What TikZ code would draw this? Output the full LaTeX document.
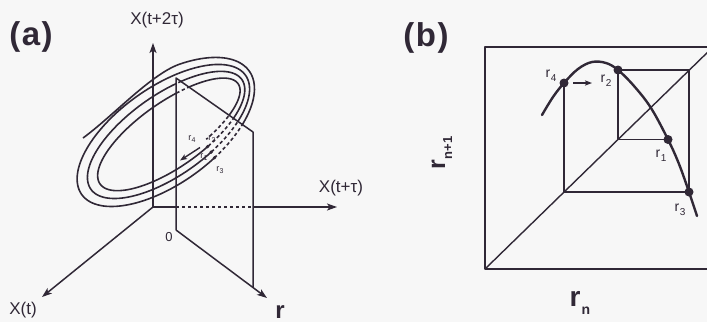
\documentclass[tikz,border=0pt]{standalone}
\usepackage{fontspec}
\setmainfont{Liberation Sans}
\usetikzlibrary{arrows.meta}
\definecolor{ink}{RGB}{48,40,54}
\definecolor{bg}{RGB}{247,247,247}
\newcommand\myspiral{(83,138) .. controls (111.4,117.4) and (150.6,74.7) .. (178.8,64.45) -- plot[domain=0:3.375,samples=440,variable=\s] ({162.6+2.75*\s+0.809*(108-8*\s)*cos(60-360*\s)-0.588*(54-8*\s)*sin(60-360*\s)},{134-0.5*\s-0.588*(108-8*\s)*cos(60-360*\s)-0.809*(54-8*\s)*sin(60-360*\s)})}
\newcommand\spdot[2]{\coordinate (#1) at ({162.6+2.75*#2+0.809*(108-8*#2)*cos(60-360*#2)-0.588*(54-8*#2)*sin(60-360*#2)},{134-0.5*#2-0.588*(108-8*#2)*cos(60-360*#2)-0.809*(54-8*#2)*sin(60-360*#2)});}
\newcommand\rsub[3]{\fontsize{#1}{#1}\selectfont r\kern0.04em\raisebox{-0.28em}{\fontsize{#2}{#2}\selectfont #3}}
\begin{document}
\begin{tikzpicture}[x=1pt,y=-1pt,line join=round,
  ax/.style={draw=ink,line width=1.5pt},
  axtip/.style={-{Stealth[length=10pt,width=7pt,inset=2.5pt]}},
  smalltip/.style={-{Stealth[length=7pt,width=5.2pt,inset=1.5pt]}},
  loopln/.style={draw=ink,line width=1.6pt},
  hid/.style={dash pattern=on 3.4pt off 2.6pt},
  lab/.style={text=ink,inner sep=0pt},
  rdot/.style={fill=ink,draw=none}]
\clip (0,0) rectangle (707,322);
\fill[bg] (0,0) rectangle (707,322);
% ---------- panel (a) ----------
\coordinate (O) at (153,207);
\coordinate (Ztip) at (153,43);
\coordinate (Ytip) at (337,207);
\coordinate (Xtip) at (42,297);
\coordinate (P1) at (176,78);
\coordinate (P2) at (253,132);
\coordinate (P3) at (253,287.5);
\coordinate (P4) at (176,230);
\coordinate (Rtip) at (267,298);
\coordinate (Ha) at (176,207);
\coordinate (Hb) at (253,207);
\coordinate (D1) at (176,96.1);
\coordinate (D2) at (253,219);
\spdot{q0}{0.375}
\spdot{q1}{1.375}
\spdot{q2}{2.375}
\coordinate (AwS) at (200,147.5);
\coordinate (AwE) at (180,160.5);
% loops
\draw[loopln] \myspiral;
\fill[bg] (P1)--(P2)--(P3)--(P4)--cycle;
\begin{scope}
  \clip (D1)--(D2)--(P3)--(P4)--cycle;
  \draw[loopln] \myspiral;
\end{scope}
\begin{scope}
  \clip (P1)--(P2)--(D2)--(D1)--cycle;
  \draw[loopln,hid] \myspiral;
\end{scope}
% axes and plane
\draw[ax,axtip] (O) -- (Ztip);
\draw[ax,axtip] (O) -- (Xtip);
\draw[ax] (O) -- (Ha);
\draw[ax,hid] (Ha) -- (Hb);
\draw[ax,axtip] (Hb) -- (Ytip);
\draw[ax] (P4) -- (P1) -- (P2) -- (P3);
\draw[ax,axtip] (P4) -- (Rtip);
\fill[rdot] (q0) circle (1.8pt) (q1) circle (1.8pt) (q2) circle (1.8pt);
\draw[ink,line width=1.4pt,smalltip] (AwS) -- (AwE);
% labels (a)
\node[lab,font=\bfseries\fontsize{33}{33}\selectfont] (la) at (31,37) {(\kern1.5pt a\kern1.5pt)};
\node[lab,font=\fontsize{17}{17}\selectfont] (lz) at (157,20) {X(t+2τ)};
\node[lab,font=\fontsize{17}{17}\selectfont] (ly) at (341,188) {X(t+τ)};
\node[lab,font=\fontsize{17}{17}\selectfont] (lx) at (23,310) {X(t)};
\node[lab,font=\fontsize{13}{13}\selectfont] (l0) at (169,237) {0};
\node[lab,anchor=base,font=\bfseries\fontsize{24}{24}\selectfont] (lr) at (280,318.5) {r};
\node[lab] (sa4) at (192,139) {\rsub{9}{7}{4}};
\node[lab] (sa2) at (212,139) {\rsub{9}{7}{2}};
\node[lab] (sa1) at (204,157) {\rsub{9}{7}{1}};
\node[lab] (sa3) at (220,170) {\rsub{9}{7}{3}};
% ---------- panel (b) ----------
\coordinate (B0) at (485,269);
\coordinate (B1) at (713,47);
\coordinate (R4) at (564,83);
\coordinate (R2) at (618,70);
\coordinate (R1) at (668,139.5);
\coordinate (R3) at (689,192);
\coordinate (A1) at (564,192);
\coordinate (A2) at (689,70);
\coordinate (A3) at (618,139.5);
\coordinate (AbS) at (573,83);
\coordinate (AbE) at (592,83);
\draw[ink,line width=1.5pt] (B0) rectangle (B1);
\draw[ink,line width=1.4pt] (B0) -- (B1);
\draw[ink,line width=1.4pt] (R4) -- (A1) -- (R3) -- (A2) -- (R2) -- (A3) -- (R1);
\draw[ink,line width=2.4pt,line cap=round] plot[smooth,tension=0.6] coordinates {(542,115) (553,97) (564,83) (578,69) (592,62) (606,63) (618,70) (634,86) (651,108) (668,139.5) (679,164) (689,192) (697,216)};
\fill[rdot] (R4) circle (4.5pt) (R2) circle (4.5pt) (R1) circle (4.5pt) (R3) circle (4.5pt);
\draw[ink,line width=1.4pt,smalltip] (AbS) -- (AbE);
\node[lab,font=\bfseries\fontsize{33}{33}\selectfont] (lb) at (426,38) {(\kern1.5pt b\kern1.5pt)};
\node[lab,rotate=90] (lrn1) at (442,153) {\bfseries\rsub{25}{13}{n+1}};
\node[lab] (lrn) at (580,303) {\bfseries\rsub{28}{14}{n}};
\node[lab] (sb4) at (551,76) {\rsub{14}{10}{4}};
\node[lab] (sb2) at (606,81) {\rsub{14}{10}{2}};
\node[lab] (sb1) at (661,156) {\rsub{14}{10}{1}};
\node[lab] (sb3) at (680,210) {\rsub{14}{10}{3}};
\end{tikzpicture}
\end{document}
